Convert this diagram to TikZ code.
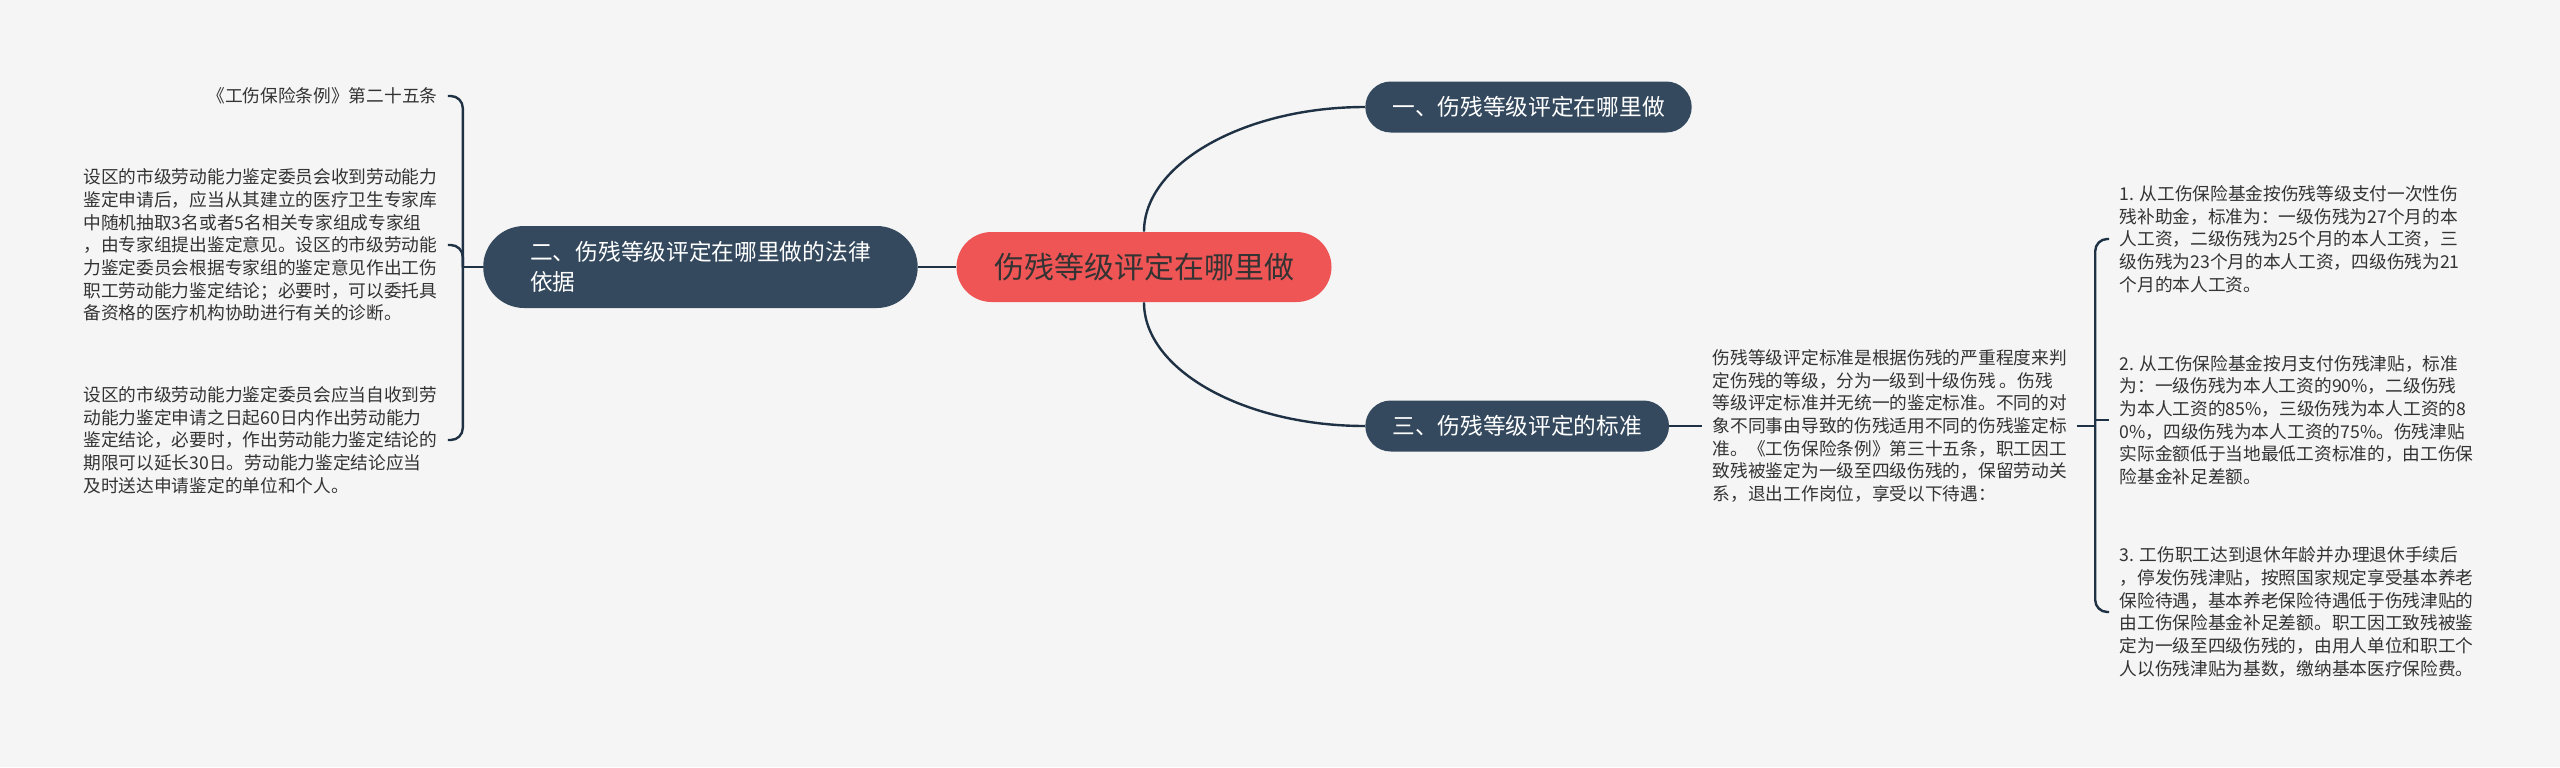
\documentclass[tikz,border=0pt]{standalone}
\usepackage{fontspec}
\newfontfamily\cjk{Noto Sans CJK SC}
\usepackage{xcolor}
\usetikzlibrary{positioning}
\definecolor{bgcol}{HTML}{F5F5F5}
\definecolor{navy}{HTML}{34495E}
\definecolor{linkcol}{HTML}{1F3144}
\definecolor{rootred}{HTML}{F05556}
\definecolor{txt}{HTML}{333333}

\begin{document}
\begin{tikzpicture}[
    x=0.5pt, y=-0.5pt,
    root/.style={fill=rootred, text=txt, rounded corners=17.5pt, minimum height=35pt, inner xsep=18.75pt, font=\cjk\fontsize{15pt}{18pt}\selectfont},
    branch/.style={fill=navy, text=white, rounded corners=12.75pt, minimum height=25.5pt, inner xsep=13.5pt, font=\cjk\fontsize{11.35pt}{15pt}\selectfont},
    leaf/.style={text=txt, align=left, inner sep=5pt, font=\cjk\fontsize{8.85pt}{11.35pt}\selectfont},
    link/.style={draw=linkcol, line width=1.2pt}
]
\fill[bgcol] (0,0) rectangle (2560,767);
\useasboundingbox (0,0) rectangle (2560,767);

\node[root] (main) at (1144,267) {伤残等级评定在哪里做};
\node[branch, left=19pt of main, rounded corners=20.5pt, minimum height=41pt, inner xsep=23.5pt, align=left] (law) {二、伤残等级评定在哪里做的法律\\依据};
\node[branch, right=16.5pt of main.east, yshift=80pt] (where) {一、伤残等级评定在哪里做};
\node[branch, right=16.5pt of main.east, yshift=-79.5pt] (stand) {三、伤残等级评定的标准};

% left side
\coordinate[left=10pt of law.west] (jl);
\node[leaf, left=17.5pt of law.west, yshift=85.5pt] (art) {《工伤保险条例》第二十五条};
\node[leaf, left=17.5pt of law.west, yshift=11pt] (panel) {设区的市级劳动能力鉴定委员会收到劳动能力\\鉴定申请后，应当从其建立的医疗卫生专家库\\中随机抽取3名或者5名相关专家组成专家组\\，由专家组提出鉴定意见。设区的市级劳动能\\力鉴定委员会根据专家组的鉴定意见作出工伤\\职工劳动能力鉴定结论；必要时，可以委托具\\备资格的医疗机构协助进行有关的诊断。};
\node[leaf, left=17.5pt of law.west, yshift=-86.5pt] (term) {设区的市级劳动能力鉴定委员会应当自收到劳\\动能力鉴定申请之日起60日内作出劳动能力\\鉴定结论，必要时，作出劳动能力鉴定结论的\\期限可以延长30日。劳动能力鉴定结论应当\\及时送达申请鉴定的单位和个人。};

% right side
\node[leaf, right=16.5pt of stand.east] (desc) {伤残等级评定标准是根据伤残的严重程度来判\\定伤残的等级，分为一级到十级伤残 。伤残\\等级评定标准并无统一的鉴定标准。不同的对\\象不同事由导致的伤残适用不同的伤残鉴定标\\准。《工伤保险条例》第三十五条，职工因工\\致残被鉴定为一级至四级伤残的，保留劳动关\\系，退出工作岗位，享受以下待遇：};
\coordinate[right=9pt of desc.east] (jr);
\node[leaf, right=16pt of desc.east, yshift=93.5pt] (pay1) {1. 从工伤保险基金按伤残等级支付一次性伤\\残补助金，标准为：一级伤残为27个月的本\\人工资，二级伤残为25个月的本人工资，三\\级伤残为23个月的本人工资，四级伤残为21\\个月的本人工资。};
\node[leaf, right=16pt of desc.east, yshift=3pt] (pay2) {2. 从工伤保险基金按月支付伤残津贴，标准\\为：一级伤残为本人工资的90\%，二级伤残\\为本人工资的85\%，三级伤残为本人工资的8\\0\%，四级伤残为本人工资的75\%。伤残津贴\\实际金额低于当地最低工资标准的，由工伤保\\险基金补足差额。};
\node[leaf, right=16pt of desc.east, yshift=-93pt] (pay3) {3. 工伤职工达到退休年龄并办理退休手续后\\，停发伤残津贴，按照国家规定享受基本养老\\保险待遇，基本养老保险待遇低于伤残津贴的\\由工伤保险基金补足差额。职工因工致残被鉴\\定为一级至四级伤残的，由用人单位和职工个\\人以伤残津贴为基数，缴纳基本医疗保险费。};

\draw[link] (law) -- (main);
\draw[link] (main.north) .. controls +(0,34pt) and +(-60pt,0) .. (where.west);
\draw[link] (main.south) .. controls +(0,-34pt) and +(-60pt,0) .. (stand.west);
\draw[link] (law.west) -- (jl);
\draw[link, rounded corners=6pt] (jl) |- (art.east);
\draw[link, rounded corners=6pt] (jl) |- (panel.east);
\draw[link, rounded corners=6pt] (jl) |- (term.east);
\draw[link] (stand) -- (desc);
\draw[link] (desc) -- (jr);
\draw[link, rounded corners=6pt] (jr) |- (pay1.west);
\draw[link] (jr) |- (pay2.west);
\draw[link, rounded corners=6pt] (jr) |- (pay3.west);
\end{tikzpicture}
\end{document}
